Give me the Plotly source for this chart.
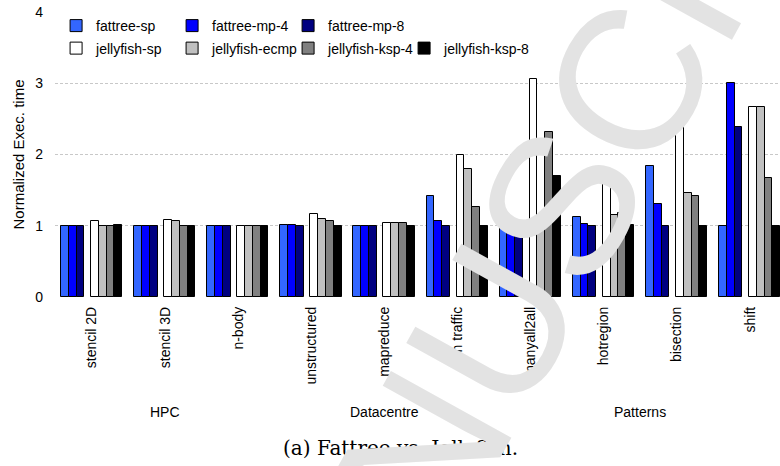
import plotly.graph_objects as go

categories = ["stencil 2D", "stencil 3D", "n-body", "unstructured", "mapreduce",
              "dcn traffic", "manyall2all", "hotregion", "bisection", "shift"]
groups = ["HPC", "Datacentre", "Patterns"]
group_pos = [1, 4, 7.5]

series_names = ["fattree-sp", "fattree-mp-4", "fattree-mp-8",
                "jellyfish-sp", "jellyfish-ecmp", "jellyfish-ksp-4", "jellyfish-ksp-8"]

fattree_sp = [1.0, 1.0, 1.0, 1.01, 1.0, 1.42, 1.21, 1.12, 1.84, 1.0]
fattree_mp4 = [1.0, 1.0, 1.0, 1.005, 1.0, 1.06, 1.06, 1.03, 1.31, 3.0]
fattree_mp8 = [1.0, 1.0, 1.0, 1.0, 1.0, 1.0, 1.0, 1.0, 1.0, 2.38]
jelly_sp = [1.06, 1.075, 1.0, 1.17, 1.035, 2.0, 3.06, 1.73, 2.49, 2.67]
jelly_ecmp = [1.0, 1.07, 1.0, 1.10, 1.035, 1.80, 1.1, 1.15, 1.46, 2.67]
jelly_ksp4 = [1.0, 1.0, 1.0, 1.07, 1.035, 1.26, 2.32, 1.18, 1.42, 1.67]
jelly_ksp8 = [1.01, 1.0, 1.0, 1.0, 1.0, 1.0, 1.70, 1.01, 1.0, 1.0]

values = [fattree_sp, fattree_mp4, fattree_mp8, jelly_sp, jelly_ecmp, jelly_ksp4, jelly_ksp8]
colors = ["#3366FF", "#0000FF", "#000080", "#FFFFFF", "#C0C0C0", "#808080", "#000000"]
bw = 0.107
offsets = [-0.424, -0.424 + bw, -0.424 + 2 * bw,
           -0.014, -0.014 + bw, -0.014 + 2 * bw, -0.014 + 3 * bw]
legend_ids = ["legend", "legend", "legend", "legend2", "legend2", "legend2", "legend2"]
legend_widths = [None, None, None, None, None, None, 110]

x_idx = list(range(len(categories)))

fig = go.Figure()
for name, vals, col, off, lg, lw in zip(series_names, values, colors, offsets,
                                        legend_ids, legend_widths):
    fig.add_trace(go.Bar(
        x=x_idx, y=vals, name=name, width=bw, offset=off,
        marker=dict(color=col, line=dict(color="#000000", width=1)),
        legend=lg, legendwidth=lw,
    ))

font_family = "Liberation Sans, Arial, sans-serif"

fig.update_layout(
    width=780, height=466,
    margin=dict(l=55, r=0, t=12, b=169, autoexpand=False),
    plot_bgcolor="white", paper_bgcolor="white",
    font=dict(family=font_family, size=14, color="#000000"),
    bargap=0,
    xaxis=dict(
        range=[-0.505, 9.41], tickmode="array", tickvals=x_idx, ticktext=categories,
        tickangle=-90, showgrid=False, showline=False, zeroline=False, ticks="",
        tickfont=dict(size=14), ticklabelstandoff=6, automargin=False,
    ),
    yaxis=dict(
        range=[0, 4], tickvals=[0, 1, 2, 3, 4], showgrid=True, gridcolor="#c8c8c8",
        griddash="3px,2px", gridwidth=1, zeroline=False, showline=False, ticks="",
        tickfont=dict(size=14), ticklabelstandoff=11, automargin=False,
        title=dict(text="Normalized Exec. time", font=dict(size=15), standoff=6),
    ),
    legend=dict(
        orientation="h", x=0.0015, y=1.007, xanchor="left", yanchor="top",
        entrywidth=71, entrywidthmode="pixels", font=dict(size=14),
        bgcolor="rgba(0,0,0,0)", tracegroupgap=0,
    ),
    legend2=dict(
        orientation="h", x=0.0015, y=0.928, xanchor="left", yanchor="top",
        entrywidth=71, entrywidthmode="pixels", font=dict(size=14),
        bgcolor="rgba(0,0,0,0)", tracegroupgap=0,
    ),
)

for g, gx in zip(groups, group_pos):
    fig.add_annotation(text=g, x=gx, xref="x", y=(297 - 411.5) / 285, yref="paper",
                       showarrow=False, font=dict(size=14), yanchor="middle")

fig.add_annotation(text="(a) Fattree vs. Jellyfish.", x=(400 - 55) / 725, xref="paper",
                   y=(297 - 448) / 285, yref="paper", showarrow=False,
                   font=dict(family="DejaVu Serif, Liberation Serif, serif", size=20),
                   yanchor="middle")

# watermark
fig.add_annotation(text="MANUSCRIPT", x=(563 - 55) / 725, xref="paper",
                   y=(297 - 200) / 285, yref="paper", showarrow=False,
                   textangle=-61, font=dict(family="Liberation Sans, Arial, sans-serif",
                                            size=200, color="#e3e3e3"),
                   xanchor="center", yanchor="middle")

fig.write_html("out.html", config={"displayModeBar": False},
               post_script="document.body.style.margin='0';")
